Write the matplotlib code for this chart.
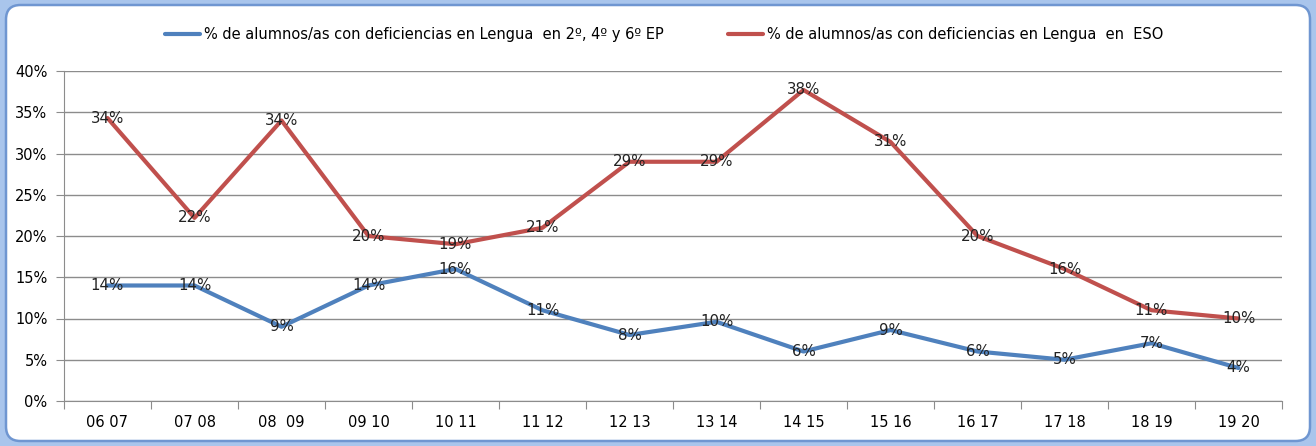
import matplotlib
matplotlib.use("Agg")
import matplotlib.pyplot as plt
from matplotlib.patches import FancyBboxPatch
from matplotlib.ticker import FixedLocator, NullFormatter, FixedFormatter

categories = ["06 07", "07 08", "08  09", "09 10", "10 11", "11 12", "12 13",
              "13 14", "14 15", "15 16", "16 17", "17 18", "18 19", "19 20"]
ep_values = [14, 14, 9, 14, 16, 11, 8, 9.6, 6, 8.6, 6, 5, 7, 4]
eso_values = [34.3, 22.2, 34, 20, 19, 21, 29, 29, 37.7, 31.4, 20, 16, 11, 10]
yticks = [0, 5, 10, 15, 20, 25, 30, 35, 40]
series_names = ["% de alumnos/as con deficiencias en Lengua  en 2º, 4º y 6º EP",
                "% de alumnos/as con deficiencias en Lengua  en  ESO"]

W, H = 1316, 446
fig = plt.figure(figsize=(W / 100, H / 100), dpi=100, facecolor="#a9c5ec")

# rounded white panel with blue edge
panel = FancyBboxPatch((6 / W, 5 / H), (W - 12) / W, (H - 10) / H,
                       boxstyle="round,pad=0,rounding_size=0.011",
                       transform=fig.transFigure, facecolor="white",
                       edgecolor="#6f96d1", linewidth=1.8,
                       mutation_aspect=W / H, zorder=-5)
fig.patches.append(panel)

ax = fig.add_axes([64 / W, 1 - 401 / H, (1282 - 64) / W, (401 - 71) / H])
ax.set_zorder(2)
ax.set_facecolor("none")

x = list(range(len(categories)))
blue = "#4f81bd"
red = "#c0504d"
l1, = ax.plot(x, ep_values, color=blue, lw=3.0, solid_joinstyle="round",
              solid_capstyle="round", zorder=3)
l2, = ax.plot(x, eso_values, color=red, lw=3.0, solid_joinstyle="round",
              solid_capstyle="round", zorder=3)

for xi, v in zip(x, ep_values):
    ax.text(xi, v, f"{round(v):d}%", ha="center", va="center",
            fontsize=10.8, color="#222222", zorder=4)
for xi, v in zip(x, eso_values):
    ax.text(xi, v, f"{round(v):d}%", ha="center", va="center",
            fontsize=10.8, color="#222222", zorder=4)

ax.set_xlim(-0.5, len(categories) - 0.5)
ax.set_ylim(0, 40)
ax.set_yticks(yticks)
ax.set_yticklabels([f"{t}%" for t in yticks], fontsize=10.5)
ax.yaxis.grid(True, color="#8c8c8c", lw=1)
ax.set_axisbelow(True)

ax.xaxis.set_major_locator(FixedLocator([i - 0.5 for i in range(len(categories) + 1)]))
ax.xaxis.set_major_formatter(NullFormatter())
ax.xaxis.set_minor_locator(FixedLocator(x))
ax.xaxis.set_minor_formatter(FixedFormatter(categories))
ax.tick_params(axis="x", which="major", length=6, color="#8c8c8c", direction="out")
ax.tick_params(axis="x", which="minor", length=0, labelsize=10.5, pad=10)
ax.tick_params(axis="y", length=6, color="#8c8c8c", pad=6)

for s in ["top", "right"]:
    ax.spines[s].set_visible(False)
ax.spines["left"].set_color("#8c8c8c")
ax.spines["bottom"].set_color("#8c8c8c")

fig.legend([l1, l2], series_names, loc="center", bbox_to_anchor=(0.505, 1 - 35 / H),
           ncol=2, frameon=False, handlelength=2.4,
           handletextpad=0.27, columnspacing=4.4,
           prop={"family": "DejaVu Sans", "size": 10.5})

fig.savefig("out.png", dpi=100, facecolor=fig.get_facecolor())
